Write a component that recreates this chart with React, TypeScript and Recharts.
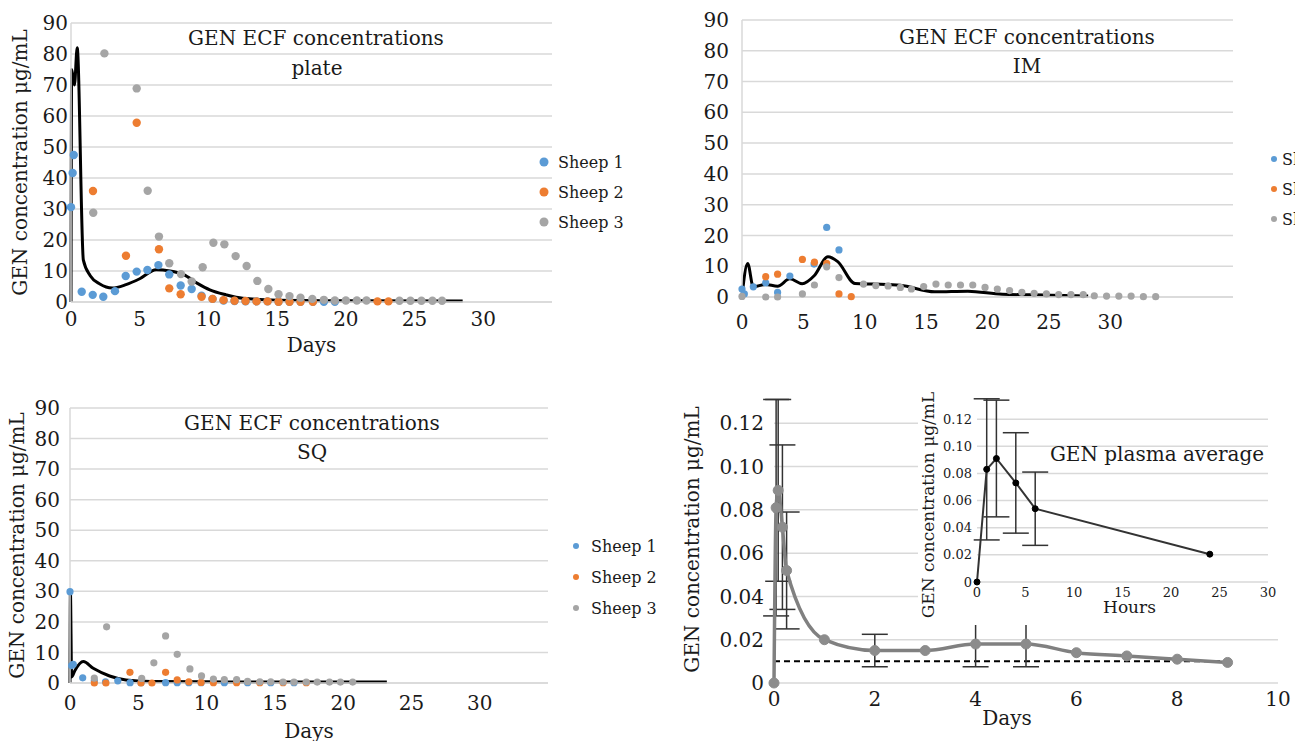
import React from 'react';
import {
  ComposedChart,
  Scatter,
  Line,
  XAxis,
  YAxis,
  CartesianGrid,
  ErrorBar,
  ReferenceLine,
} from 'recharts';

// ECF concentrations, [day, µg/mL]
const plateSheep1 = [[0, 30.6], [0.12, 41.6], [0.2, 47.4], [0.78, 3.3], [1.58, 2.3], [2.35, 1.7], [3.2, 3.5], [3.98, 8.4], [4.78, 9.8], [5.56, 10.3], [6.36, 11.9], [7.15, 8.9], [7.98, 5.3], [8.78, 4.2], [9.5, 2.0], [10.3, 1.0], [11.1, 0.5], [11.9, 0.3], [12.7, 0.2], [13.5, 0.2], [14.3, 0.2], [15.1, 0.1], [15.9, 0.1], [16.7, 0.1], [17.6, 0.1], [18.4, 0.1], [19.2, 0.1]];
const plateSheep2 = [[1.6, 35.8], [4.0, 14.9], [4.78, 57.8], [6.4, 17.0], [7.15, 4.4], [7.98, 2.5], [9.5, 1.7], [10.3, 1.0], [11.1, 0.6], [11.9, 0.4], [12.7, 0.3], [13.5, 0.2], [14.3, 0.2], [15.1, 0.1], [15.9, 0.1], [16.7, 0.1], [17.6, 0.1], [22.3, 0.2], [23.1, 0.2]];
const plateSheep3 = [[1.62, 28.8], [2.43, 80.2], [4.78, 68.9], [5.58, 35.9], [6.4, 21.1], [7.15, 12.5], [8.0, 9.0], [8.78, 6.6], [9.58, 11.2], [10.36, 19.1], [11.16, 18.6], [11.98, 14.8], [12.78, 11.6], [13.56, 6.8], [14.36, 4.2], [15.1, 2.5], [15.9, 1.9], [16.7, 1.4], [17.56, 1.0], [18.4, 0.7], [19.2, 0.5], [20.0, 0.5], [20.8, 0.5], [21.5, 0.5], [23.9, 0.4], [24.7, 0.4], [25.5, 0.4], [26.3, 0.4], [27.0, 0.4]];
const plateMean = [[0, 0], [0.05, 75], [0.25, 70], [0.45, 82], [0.9, 13.5], [1.4, 8.5], [2.1, 5.8], [3.0, 4.5], [4.0, 5.6], [5.0, 7.5], [6.2, 10.4], [7.2, 10.0], [8.2, 8.8], [9.2, 6.0], [10.1, 3.9], [11.3, 2.3], [12.5, 1.2], [15, 0.6], [20, 0.4], [28.5, 0.3]];

const imSheep1 = [[0, 2.6], [0.19, 1.0], [0.92, 3.3], [1.93, 4.6], [2.9, 1.5], [3.9, 6.8], [5.87, 10.7], [6.9, 22.6], [7.9, 15.3]];
const imSheep2 = [[1.93, 6.6], [2.9, 7.4], [4.92, 12.2], [5.9, 11.3], [6.9, 10.9], [7.9, 1.0], [8.9, 0.1]];
const imSheep3 = [[0, 0.2], [1.93, 0], [2.9, 0], [4.92, 1.0], [5.9, 3.9], [6.9, 9.8], [7.9, 6.3], [9.9, 4.2], [10.9, 3.7], [11.9, 3.6], [12.9, 3.1], [13.8, 2.6], [14.8, 3.4], [15.8, 4.2], [16.8, 3.9], [17.8, 3.9], [18.8, 3.9], [19.8, 3.1], [20.8, 2.6], [21.8, 2.1], [22.8, 1.5], [23.8, 1.2], [24.8, 1.0], [25.8, 0.8], [26.8, 0.8], [27.8, 0.8], [28.7, 0.4], [29.7, 0.3], [30.7, 0.3], [31.7, 0.3], [32.7, 0.1], [33.7, 0.1]];
const imMean = [[0, 0.3], [0.46, 10.9], [0.92, 3.3], [1.9, 4.1], [2.9, 3.5], [3.9, 5.9], [4.9, 4.3], [5.9, 7.0], [7.0, 13.1], [7.8, 11.5], [9.2, 4.4], [10.7, 4.2], [12.9, 3.8], [15.7, 1.7], [18.4, 1.9], [21.2, 0.9], [25.2, 0.6], [28.2, 0.3]];

const sqSheep1 = [[0, 29.9], [0.12, 5.7], [0.24, 6.1], [0.93, 1.7], [1.78, 0.7], [2.6, 0.4], [3.5, 0.7], [4.4, 0.1], [5.2, 0.1], [7.0, 0.1], [7.85, 0.1], [8.7, 0.1], [9.6, 0.1], [11.3, 0.1], [13.0, 0.1], [14.7, 0.1], [16.4, 0.1]];
const sqSheep2 = [[1.78, 0], [2.63, 0], [4.39, 3.5], [5.2, 0], [6.0, 0], [7.0, 3.5], [7.85, 1.0], [8.7, 0.4], [9.6, 0.2], [10.5, 0.1], [12.2, 0.1], [13.9, 0.1], [15.6, 0.1], [17.3, 0.1]];
const sqSheep3 = [[1.78, 1.6], [2.68, 18.4], [5.25, 1.5], [6.14, 6.6], [7.0, 15.4], [7.85, 9.4], [8.78, 4.6], [9.63, 2.3], [10.5, 1.3], [11.3, 1.1], [12.2, 1.1], [13.0, 0.5], [13.9, 0.4], [14.7, 0.4], [15.6, 0.3], [16.4, 0.3], [17.3, 0.3], [18.1, 0.3], [19.0, 0.3], [19.8, 0.3], [20.7, 0.3]];
const sqMean = [[0, 0], [0.03, 30], [0.12, 2], [0.35, 4], [0.97, 7], [1.7, 4.8], [2.9, 2.3], [4.1, 1.0], [5.9, 0.5], [10, 0.4], [15, 0.3], [23.2, 0.3]];

// plasma average (days), mean and SD in µg/mL
const plasmaDay = [0, 0.042, 0.083, 0.167, 0.25, 1, 2, 3, 4, 5, 6, 7, 8, 9];
const plasmaMean = [0, 0.081, 0.089, 0.072, 0.052, 0.02, 0.015, 0.015, 0.018, 0.018, 0.014, 0.0125, 0.011, 0.0095];
const plasmaSd = [0, 0.05, 0.042, 0.038, 0.027, 0, 0.0075, 0, 0.0105, 0.0105, 0, 0, 0, 0];
const plasmaLimit = [[0, 0.01], [9, 0.01]];

// inset, first 24 hours
const plasmaHour = [0, 1, 2, 4, 6, 24];
const plasmaHourMean = [0, 0.083, 0.091, 0.073, 0.054, 0.0205];
const plasmaHourSd = [0, 0.052, 0.043, 0.037, 0.027, 0];

const DAY_TICKS = [0, 5, 10, 15, 20, 25, 30];
const CONC_TICKS = [0, 10, 20, 30, 40, 50, 60, 70, 80, 90];
const PLASMA_DAY_TICKS = [0, 2, 4, 6, 8, 10];
const PLASMA_TICKS = [0, 0.02, 0.04, 0.06, 0.08, 0.1, 0.12];
const HOUR_TICKS = [0, 5, 10, 15, 20, 25, 30];

const SHEEP_NAMES = ['Sheep 1', 'Sheep 2', 'Sheep 3'];
const SHEEP_COLORS = ['#5b9bd5', '#ed7d31', '#a5a5a5'];

const INK = '#1a1a1a';
const GRID = '#d9d9d9';
const FONT = "'DejaVu Serif', 'Liberation Serif', serif";
const Y_TITLE = 'GEN concentration μg/mL';

const toPoints = (rows: number[][]) => rows.map(([x, y]) => ({ x, y }));
const fmtConc = (v: number) => (v === 0 ? '0' : v.toFixed(2));

const plasmaRows = plasmaDay.map((x, i) => ({ x, y: plasmaMean[i], e: plasmaSd[i] }));
const hourRows = plasmaHour.map((x, i) => ({ x, y: plasmaHourMean[i], e: plasmaHourSd[i] }));

type EcfProps = {
  left: number;
  top: number;
  width: number;
  height: number;
  margin: { top: number; right: number; bottom: number; left: number };
  yWidth: number;
  yTickMargin: number;
  xHeight: number;
  xTickMargin: number;
  xMax: number;
  dotR: number;
  yTitleOffset?: number;
  xTitleOffset?: number;
  sheep: number[][][];
  mean: number[][];
};

function EcfPanel(p: EcfProps) {
  const tick = { fill: INK, fontSize: 20, fontFamily: FONT };
  return (
    <div style={{ position: 'absolute', left: p.left, top: p.top }}>
      <ComposedChart width={p.width} height={p.height} margin={p.margin}>
        <CartesianGrid vertical={false} syncWithTicks stroke={GRID} strokeWidth={1.5} />
        <XAxis
          type="number"
          dataKey="x"
          domain={[0, p.xMax]}
          ticks={DAY_TICKS}
          interval={0}
          height={p.xHeight}
          axisLine={{ stroke: GRID, strokeWidth: 1.5 }}
          tickLine={false}
          tickSize={0}
          tickMargin={p.xTickMargin}
          tick={tick}
          label={
            p.xTitleOffset != null
              ? { value: 'Days', position: 'insideBottom', offset: p.xTitleOffset, style: { fill: INK, fontSize: 20, fontFamily: FONT } }
              : undefined
          }
        />
        <YAxis
          type="number"
          domain={[0, 90]}
          ticks={CONC_TICKS}
          interval={0}
          width={p.yWidth}
          axisLine={{ stroke: GRID, strokeWidth: 1.5 }}
          tickLine={false}
          tickSize={0}
          tickMargin={p.yTickMargin}
          tick={tick}
          label={
            p.yTitleOffset != null
              ? {
                  value: Y_TITLE,
                  angle: -90,
                  position: 'insideLeft',
                  offset: p.yTitleOffset,
                  style: { textAnchor: 'middle', fill: INK, fontSize: 20, fontFamily: FONT },
                }
              : undefined
          }
        />
        {p.sheep.map((rows, i) => (
          <Scatter
            key={SHEEP_NAMES[i]}
            name={SHEEP_NAMES[i]}
            data={toPoints(rows)}
            dataKey="y"
            isAnimationActive={false}
            shape={(s: any) => <circle cx={s.cx} cy={s.cy} r={p.dotR} fill={SHEEP_COLORS[i]} />}
          />
        ))}
        <Line
          data={toPoints(p.mean)}
          dataKey="y"
          type="monotone"
          stroke="#000"
          strokeWidth={3}
          dot={false}
          activeDot={false}
          isAnimationActive={false}
        />
      </ComposedChart>
    </div>
  );
}

function LegendBlock({ x, y, gap, r, textGap }: { x: number; y: number; gap: number; r: number; textGap: number }) {
  return (
    <g>
      {SHEEP_NAMES.map((name, i) => (
        <g key={name}>
          <circle cx={x} cy={y + i * gap} r={r} fill={SHEEP_COLORS[i]} />
          <text x={x + textGap} y={y + i * gap + 6} fontSize={16} fill={INK} fontFamily={FONT}>
            {name}
          </text>
        </g>
      ))}
    </g>
  );
}

export default function App() {
  const tick20 = { fill: INK, fontSize: 20, fontFamily: FONT };
  const tick13 = { fill: INK, fontSize: 13, fontFamily: FONT };
  return (
    <div
      style={{
        position: 'absolute',
        left: 0,
        top: 0,
        width: 1295,
        height: 741,
        overflow: 'hidden',
        background: '#fff',
        fontFamily: FONT,
      }}
    >
      <EcfPanel
        left={0}
        top={0}
        width={560}
        height={360}
        margin={{ top: 23, right: 8, bottom: 3, left: 0 }}
        yWidth={71}
        yTickMargin={3}
        xHeight={55}
        xTickMargin={10}
        xMax={35}
        dotR={4.2}
        yTitleOffset={20}
        xTitleOffset={5}
        sheep={[plateSheep1, plateSheep2, plateSheep3]}
        mean={plateMean}
      />
      <EcfPanel
        left={650}
        top={0}
        width={600}
        height={360}
        margin={{ top: 20, right: 17, bottom: 3, left: 0 }}
        yWidth={92}
        yTickMargin={13}
        xHeight={60}
        xTickMargin={18}
        xMax={40}
        dotR={3.6}
        sheep={[imSheep1, imSheep2, imSheep3]}
        mean={imMean}
      />
      <EcfPanel
        left={0}
        top={380}
        width={560}
        height={361}
        margin={{ top: 28, right: 12, bottom: 0, left: 0 }}
        yWidth={70}
        yTickMargin={10}
        xHeight={58}
        xTickMargin={13}
        xMax={35}
        dotR={3.6}
        yTitleOffset={17}
        xTitleOffset={3}
        sheep={[sqSheep1, sqSheep2, sqSheep3]}
        mean={sqMean}
      />

      {/* plasma average, days */}
      <div style={{ position: 'absolute', left: 670, top: 380 }}>
        <ComposedChart width={625} height={361} margin={{ top: 0, right: 17, bottom: 0, left: 0 }}>
          <CartesianGrid vertical={false} syncWithTicks stroke={GRID} strokeWidth={1.5} />
          <XAxis
            type="number"
            dataKey="x"
            domain={[0, 10]}
            ticks={PLASMA_DAY_TICKS}
            interval={0}
            height={58}
            axisLine={false}
            tickLine={false}
            tickSize={0}
            tickMargin={9}
            tick={tick20}
            label={{ value: 'Days', position: 'insideBottom', offset: 16, dx: -19, style: { fill: INK, fontSize: 20, fontFamily: FONT } }}
          />
          <YAxis
            type="number"
            domain={[0, 0.14]}
            ticks={PLASMA_TICKS}
            interval={0}
            width={104}
            axisLine={false}
            tickLine={false}
            tickSize={0}
            tickMargin={10}
            tick={tick20}
            tickFormatter={fmtConc}
            label={{
              value: Y_TITLE,
              angle: -90,
              position: 'insideLeft',
              offset: 22,
              dy: 8,
              style: { textAnchor: 'middle', fill: INK, fontSize: 20, fontFamily: FONT },
            }}
          />
          <ReferenceLine
            segment={plasmaLimit.map(([x, y]) => ({ x, y }))}
            stroke="#000"
            strokeWidth={2}
            strokeDasharray="6 4"
          />
          <Line
            data={plasmaRows}
            dataKey="y"
            type="monotone"
            stroke="#808080"
            strokeWidth={3.5}
            dot={{ r: 5, fill: '#8c8c8c', stroke: '#8c8c8c', strokeWidth: 1 }}
            activeDot={false}
            isAnimationActive={false}
          >
            <ErrorBar dataKey="e" width={13} stroke="#333" strokeWidth={1.5} direction="y" />
          </Line>
        </ComposedChart>
      </div>

      {/* inset, hours */}
      <div style={{ position: 'absolute', left: 918, top: 385, background: '#fff' }}>
        <ComposedChart width={362} height={240} margin={{ top: 7, right: 12, bottom: 0, left: 0 }}>
          <CartesianGrid vertical={false} syncWithTicks stroke={GRID} strokeWidth={1.5} />
          <XAxis
            type="number"
            dataKey="x"
            domain={[0, 30]}
            ticks={HOUR_TICKS}
            interval={0}
            height={43}
            axisLine={false}
            tickLine={false}
            tickSize={0}
            tickMargin={6}
            tick={tick13}
            label={{ value: 'Hours', position: 'insideBottom', offset: 12, dx: 7, style: { fill: INK, fontSize: 17, fontFamily: FONT } }}
          />
          <YAxis
            type="number"
            domain={[0, 0.14]}
            ticks={PLASMA_TICKS}
            interval={0}
            width={59}
            axisLine={false}
            tickLine={false}
            tickSize={0}
            tickMargin={5}
            tick={tick13}
            tickFormatter={fmtConc}
            label={{
              value: Y_TITLE,
              angle: -90,
              position: 'insideLeft',
              offset: 10,
              dy: 18,
              style: { textAnchor: 'middle', fill: INK, fontSize: 17, fontFamily: FONT },
            }}
          />
          <Line
            data={hourRows}
            dataKey="y"
            type="linear"
            stroke="#333"
            strokeWidth={2}
            dot={{ r: 3, fill: '#000', stroke: '#000', strokeWidth: 1 }}
            activeDot={false}
            isAnimationActive={false}
          >
            <ErrorBar dataKey="e" width={13} stroke="#333" strokeWidth={1.5} direction="y" />
          </Line>
        </ComposedChart>
      </div>

      {/* titles and legends */}
      <svg width={1295} height={741} style={{ position: 'absolute', left: 0, top: 0, pointerEvents: 'none' }}>
        <g fontFamily={FONT} fontSize={20} fill={INK} textAnchor="middle">
          <text x={316} y={45}>GEN ECF concentrations</text>
          <text x={317} y={75}>plate</text>
          <text x={1027} y={44}>GEN ECF concentrations</text>
          <text x={1027} y={73}>IM</text>
          <text x={312} y={430}>GEN ECF concentrations</text>
          <text x={312} y={459}>SQ</text>
          <text x={1157} y={461}>GEN plasma average</text>
        </g>
        <LegendBlock x={544} y={162} gap={30} r={4.5} textGap={14} />
        <LegendBlock x={1274} y={159} gap={30} r={3} textGap={8} />
        <LegendBlock x={576} y={546} gap={31} r={3} textGap={15} />
      </svg>
    </div>
  );
}
